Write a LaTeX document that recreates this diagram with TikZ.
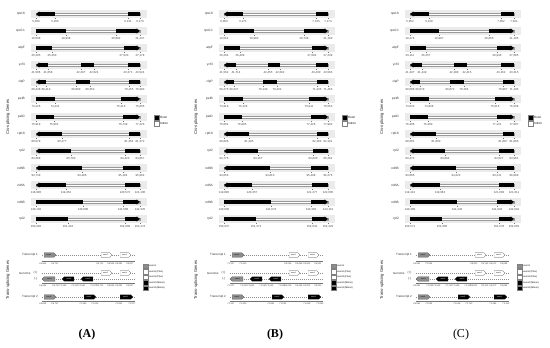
\documentclass[tikz,border=0pt]{standalone}
\usepackage{fontspec}
\setmainfont{Liberation Sans}
\newfontfamily\panelfont{Liberation Serif}
\usetikzlibrary{shapes.symbols,positioning}
\definecolor{ExonOne}{RGB}{140,140,140}
\definecolor{BandGrey}{RGB}{235,235,235}

% one cis-splicing row: name, y, gene, strand (-1/1), start, end, exons
\newcommand{\cisrow}[7]{%
  \begin{scope}[shift={(0,#2)}]
    \fill[band] (31,-4) rectangle (147,4);
    \node[genename, anchor=east] (#1) at (25,0) {#3};
    \draw[intron] (#5,-1.1) rectangle (#6,1.1);
    \foreach \xs/\txs/\xe/\txe in {#7} {
      \pgfmathsetmacro\exs{max(\xs,#5+3.2*(#4<0))}
      \pgfmathsetmacro\exe{min(\xe,#6-3.2*(#4>0))}
      \fill (\exs,-2) rectangle (\exe,2);
      \draw[tickmark] (\xs,4.2) -- (\xs,5.4) (\xe,4.2) -- (\xe,5.4);
      \node[coordlabel] at (\xs,7.4) {\txs};
      \node[coordlabel] at (\xe,7.4) {\txe};
    }
    \pgfmathsetmacro\gtip{#4<0 ? #5 : #6}
    \fill (\gtip,0) -- ++({-(#4)*3.4},2.6) -- ++(0,-5.2) -- cycle;
  \end{scope}}

% trans-splicing block: name, transcript 1, genome, transcript 2 labels
\newcommand{\transpart}[4]{%
  % --- transcript 1
  \node[rowlabel, anchor=east] (#1-t1) at (38,255) {Transcript 1};
  \draw[strandline] (42,255) -- (135,255);
  \node[exonarrow, fill=ExonOne, signal to=east, minimum width=12] (#1-t1x1) at (49,255) {exon1};
  \node[exonarrow, fill=white, signal to=east, minimum width=11] (#1-t1x2) at (105.5,255) {exon2};
  \node[exonarrow, fill=white, signal to=east, minimum width=11] (#1-t1x3) at (124.5,255) {exon3};
  \draw[axisline] (42,261) -- (135,261);
  \foreach \pos/\lab in {#2} {\draw[tickmark] (\pos,261) -- (\pos,262.2); \node[translabel] at (\pos,264) {\lab};}
  % --- genome, both strands
  \node[rowlabel, anchor=east] (#1-gp) at (37.5,273) {(+)};
  \node[rowlabel, left=2.5pt of #1-gp] (#1-g) {Genome};
  \node[rowlabel, anchor=east] (#1-gm) at (37.5,279) {(-)};
  \draw[strandline] (42,273) -- (135,273);
  \draw[strandline] (42,279) -- (135,279);
  \node[exonarrow, fill=white, signal to=east, minimum width=11] (#1-gx2) at (105.5,273) {exon2};
  \node[exonarrow, fill=white, signal to=east, minimum width=11] (#1-gx3) at (124.5,273) {exon3};
  \node[exonarrow, fill=ExonOne, signal to=west, minimum width=13] (#1-gx1) at (49.5,279) {exon1};
  \node[exonarrow, fill=black, text=white, signal to=west, minimum width=12] (#1-gy2) at (69,279) {exon2};
  \node[exonarrow, fill=black, text=white, signal to=west, minimum width=12] (#1-gy3) at (88,279) {exon3};
  \draw[axisline] (42,283) -- (135,283);
  \foreach \pos/\lab in {#3} {\draw[tickmark] (\pos,283) -- (\pos,284.2); \node[translabel] at (\pos,286) {\lab};}
  % --- transcript 2
  \node[rowlabel, anchor=east] (#1-t2) at (38,297) {Transcript 2};
  \draw[strandline] (42,297) -- (135,297);
  \node[exonarrow, fill=ExonOne, signal to=east, minimum width=12] (#1-t2x1) at (49,297) {exon1};
  \node[exonarrow, fill=black, text=white, signal to=east, minimum width=12] (#1-t2x2) at (89,297) {exon2};
  \node[exonarrow, fill=black, text=white, signal to=east, minimum width=13] (#1-t2x3) at (125.5,297) {exon3};
  \draw[axisline] (42,301) -- (135,301);
  \foreach \pos/\lab in {#4} {\draw[tickmark] (\pos,301) -- (\pos,302.2); \node[translabel] at (\pos,304) {\lab};}
}

% axis titles and legends of one panel
\newcommand{\panelframe}[1]{%
  \node[axistitle] (#1-cistitle) at (8,117) {Cis-splicing Genes};
  \node[legbox, fill=black] (#1-lexon) at (156.5,117.5) {};
  \node[legbox, fill=white, below=0.8pt of #1-lexon] (#1-lintron) {};
  \node[legtext, right=1.2pt of #1-lexon] (#1-texon) {Exon};
  \node[legtext, right=1.2pt of #1-lintron] (#1-tintron) {Intron};
  \node[axistitle] (#1-transtitle) at (8,280) {Trans-splicing Genes};
  \foreach \i/\col/\lab in {0/ExonOne/exon1, 1/white/exon2 (Plus), 2/white/exon3 (Plus), 3/black/exon2 (Minus), 4/black/exon3 (Minus)} {
    \node[legbox, fill=\col] (#1-tl\i) at (145.5,{266+5.5*\i}) {};
    \node[legtext, font=\fontsize{2.4}{3}\selectfont, right=1.2pt of #1-tl\i] {\lab};
  }
}

\begin{document}
\begin{tikzpicture}[x=1pt, y=-1pt,
  band/.style={fill=BandGrey},
  intron/.style={draw=black!40, fill=white, line width=0.2pt},
  tickmark/.style={draw=black!55, line width=0.2pt},
  coordlabel/.style={font=\fontsize{2.9}{3}\selectfont, text=black!70, inner sep=0pt},
  genename/.style={font=\fontsize{3.2}{3.5}\selectfont, text=black!80, inner sep=0pt},
  axistitle/.style={font=\fontsize{4.2}{5}\selectfont, rotate=90, text=black!85},
  legbox/.style={draw=black!50, line width=0.2pt, minimum size=4.8pt, inner sep=0pt},
  legtext/.style={font=\fontsize{3}{3.5}\selectfont, inner sep=0pt},
  rowlabel/.style={font=\fontsize{3}{3.5}\selectfont, inner sep=0pt, text=black!80},
  strandline/.style={draw=black!45, dash pattern=on 1pt off 1pt, line width=0.25pt},
  axisline/.style={draw=black!55, line width=0.3pt},
  exonarrow/.style={signal, draw=black!70, line width=0.2pt, minimum height=4.4pt, inner sep=0pt, font=\fontsize{1.8}{2}\selectfont},
  translabel/.style={font=\fontsize{2.3}{3}\selectfont, text=black!70, inner sep=0pt},
  panellabel/.style={font=\panelfont\fontsize{12}{14}\selectfont}
]
\path[use as bounding box, fill=white] (0,0) rectangle (550,348);

% --- Panel A
\begin{scope}
  \panelframe{A}
  \cisrow{A1}{14}{rps16}{-1}{36}{140}{36/5{,}039/55/5{,}266, 128/6{,}131/140/6{,}170}
  \cisrow{A2}{31}{rpoC1}{1}{36}{140}{36/18{,}508/66/19{,}938, 116/20{,}682/140/21{,}137}
  \cisrow{A3}{48}{atpF}{1}{36}{140}{36/26{,}205/52/26{,}350, 124/27{,}033/140/27{,}178}
  \cisrow{A4}{65}{ycf3}{-1}{36}{140}{36/41{,}506/48/41{,}658, 81/42{,}397/94/42{,}624, 128/43{,}371/140/43{,}524}
  \cisrow{A5}{82}{clpP}{-1}{36}{140}{36/68{,}348/46/68{,}419, 76/69{,}060/90/69{,}352, 129/70{,}155/140/70{,}383}
  \cisrow{A6}{99}{petB}{1}{36}{140}{36/74{,}226/55/74{,}441, 121/75{,}213/140/75{,}855}
  \cisrow{A7}{117}{petD}{1}{36}{140}{36/75{,}918/54/76{,}001, 123/76{,}749/140/77{,}225}
  \cisrow{A8}{134}{rpl16}{-1}{36}{140}{36/80{,}078/62/80{,}477, 129/81{,}364/140/81{,}372}
  \cisrow{A9}{151}{rpl2}{-1}{36}{140}{36/83{,}368/71/83{,}760, 125/84{,}423/140/84{,}857}
  \cisrow{A10}{168}{ndhB}{-1}{36}{140}{36/93{,}739/82/94{,}496, 123/95{,}184/140/95{,}962}
  \cisrow{A11}{185}{ndhA}{-1}{36}{140}{36/118{,}900/66/119{,}452, 125/120{,}572/140/121{,}100}
  \cisrow{A12}{202}{ndhB}{1}{36}{140}{36/140{,}102/83/140{,}880, 123/141{,}568/140/142{,}325}
  \cisrow{A13}{219}{rpl2}{1}{36}{140}{36/150{,}982/68/151{,}416, 125/152{,}089/140/152{,}474}
  \transpart{A}{43/69{,}644, 55/69{,}757, 100/98{,}712, 111/98{,}944, 119/99{,}481, 130/99{,}507}
    {43/69{,}644, 56/69{,}757, 63/70{,}183, 75/70{,}415, 82/70{,}951, 94/70{,}977, 100/98{,}712, 111/98{,}944, 119/99{,}481, 130/99{,}507}
    {43/69{,}644, 55/69{,}757, 83/70{,}183, 95/70{,}415, 119/70{,}951, 132/70{,}977}
  \node[panellabel, font=\panelfont\bfseries\fontsize{12}{14}\selectfont] (labA) at (87,335) {(A)};
\end{scope}

% --- Panel B
\begin{scope}[shift={(188,0)}]
  \panelframe{B}
  \cisrow{B1}{14}{rps16}{-1}{36}{140}{36/6{,}083/55/6{,}271, 128/7{,}135/140/7{,}174}
  \cisrow{B2}{31}{rpoC1}{1}{36}{140}{36/19{,}561/66/19{,}993, 116/20{,}738/140/21{,}190}
  \cisrow{B3}{48}{atpF}{1}{36}{140}{36/26{,}264/52/26{,}409, 124/27{,}094/140/27{,}239}
  \cisrow{B4}{65}{ycf3}{-1}{36}{140}{36/41{,}562/48/41{,}714, 80/42{,}455/92/42{,}682, 128/43{,}430/140/43{,}583}
  \cisrow{B5}{82}{clpP}{-1}{36}{140}{36/69{,}276/46/69{,}347, 75/70{,}140/89/70{,}432, 129/71{,}235/140/71{,}463}
  \cisrow{B6}{99}{petB}{1}{36}{140}{36/74{,}918/55/75{,}133, 121/75{,}911/140/76{,}553}
  \cisrow{B7}{117}{petD}{1}{36}{140}{36/76{,}601/54/76{,}685, 123/77{,}426/140/77{,}902}
  \cisrow{B8}{134}{rpl16}{-1}{36}{140}{36/80{,}896/61/81{,}295, 129/82{,}183/140/82{,}191}
  \cisrow{B9}{151}{rpl2}{-1}{36}{140}{36/83{,}775/70/84{,}167, 125/84{,}830/140/85{,}264}
  \cisrow{B10}{168}{ndhB}{-1}{36}{140}{36/94{,}053/82/94{,}810, 123/95{,}498/140/96{,}276}
  \cisrow{B11}{185}{ndhA}{-1}{36}{140}{36/119{,}806/64/120{,}357, 124/121{,}477/140/122{,}005}
  \cisrow{B12}{202}{ndhB}{1}{36}{140}{36/140{,}896/83/141{,}674, 123/142{,}362/140/143{,}119}
  \cisrow{B13}{219}{rpl2}{1}{36}{140}{36/150{,}937/68/151{,}371, 124/152{,}044/140/152{,}429}
  \transpart{B}{43/70{,}327, 55/70{,}440, 100/99{,}236, 111/99{,}468, 119/99{,}905, 130/99{,}931}
    {43/70{,}327, 56/70{,}440, 63/70{,}861, 75/71{,}093, 82/71{,}629, 94/71{,}655, 100/99{,}236, 111/99{,}468, 119/99{,}905, 130/99{,}931}
    {43/70{,}327, 55/70{,}440, 83/70{,}861, 95/71{,}093, 119/71{,}629, 132/71{,}655}
  \node[panellabel, font=\panelfont\bfseries\fontsize{12}{14}\selectfont] (labB) at (87,335) {(B)};
\end{scope}

% --- Panel C
\begin{scope}[shift={(374,0)}]
  \panelframe{C}
  \cisrow{C1}{14}{rps16}{-1}{36}{140}{36/5{,}952/55/6{,}139, 127/7{,}002/140/7{,}041}
  \cisrow{C2}{31}{rpoC1}{1}{36}{140}{36/19{,}476/65/19{,}907, 115/20{,}650/140/21{,}105}
  \cisrow{C3}{48}{atpF}{1}{36}{140}{36/26{,}112/52/26{,}257, 123/26{,}940/140/27{,}085}
  \cisrow{C4}{65}{ycf3}{-1}{36}{140}{36/41{,}297/48/41{,}449, 80/42{,}188/93/42{,}415, 127/43{,}162/140/43{,}315}
  \cisrow{C5}{82}{clpP}{-1}{36}{140}{36/69{,}008/46/69{,}079, 76/69{,}872/90/70{,}164, 129/70{,}967/140/71{,}195}
  \cisrow{C6}{99}{petB}{1}{36}{140}{36/74{,}623/55/74{,}838, 121/75{,}616/140/76{,}258}
  \cisrow{C7}{117}{petD}{1}{36}{140}{36/76{,}306/54/76{,}390, 123/77{,}131/140/77{,}607}
  \cisrow{C8}{134}{rpl16}{-1}{36}{140}{36/80{,}601/62/81{,}000, 129/81{,}887/140/81{,}895}
  \cisrow{C9}{151}{rpl2}{-1}{36}{140}{36/83{,}472/71/83{,}864, 125/84{,}527/140/84{,}961}
  \cisrow{C10}{168}{ndhB}{-1}{36}{140}{36/93{,}866/82/94{,}623, 123/95{,}311/140/96{,}089}
  \cisrow{C11}{185}{ndhA}{-1}{36}{140}{36/119{,}412/66/119{,}963, 125/121{,}083/140/121{,}611}
  \cisrow{C12}{202}{ndhB}{1}{36}{140}{36/140{,}468/83/141{,}246, 123/141{,}934/140/142{,}691}
  \cisrow{C13}{219}{rpl2}{1}{36}{140}{36/150{,}571/68/151{,}005, 125/151{,}678/140/152{,}063}
  \transpart{C}{43/69{,}981, 55/70{,}094, 100/98{,}903, 111/99{,}135, 119/99{,}672, 130/99{,}698}
    {43/69{,}981, 56/70{,}094, 63/70{,}518, 75/70{,}750, 82/71{,}286, 94/71{,}312, 100/98{,}903, 111/99{,}135, 119/99{,}672, 130/99{,}698}
    {43/69{,}981, 55/70{,}094, 83/70{,}518, 95/70{,}750, 119/71{,}286, 132/71{,}312}
  \node[panellabel] (labC) at (87,335) {(C)};
\end{scope}

\end{tikzpicture}
\end{document}
